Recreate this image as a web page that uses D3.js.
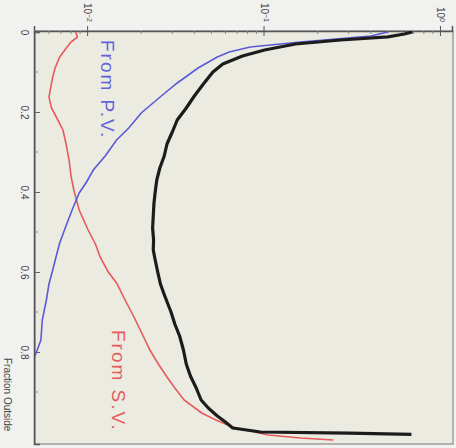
<!DOCTYPE html>
<html>
<head>
<meta charset="utf-8">
<script src="https://cdn.jsdelivr.net/npm/d3@7"></script>
<style>
  body { margin: 0; background: #f1f1ef; }
  svg { display: block; font-family: "Liberation Sans", Arial, sans-serif; }
</style>
</head>
<body>
<div id="chart"></div>
<script>

// fraction along x (original orientation), value on log scale
const blackFrac = [0, 0.005, 0.012, 0.02, 0.03, 0.045, 0.06, 0.08, 0.10, 0.13, 0.16, 0.19, 0.22, 0.25, 0.28, 0.31, 0.34, 0.37, 0.40, 0.43, 0.46, 0.49, 0.52, 0.545, 0.57, 0.60, 0.63, 0.66, 0.70, 0.73, 0.76, 0.795, 0.83, 0.86, 0.89, 0.92, 0.94, 0.96, 0.975, 0.99, 1.0, 1.003, 1.006];
const blackVal = [0.69, 0.62, 0.50, 0.27, 0.15, 0.10, 0.075, 0.058, 0.051, 0.045, 0.040, 0.036, 0.032, 0.030, 0.028, 0.027, 0.0255, 0.0245, 0.024, 0.0236, 0.0234, 0.0232, 0.0235, 0.0234, 0.0240, 0.0248, 0.0257, 0.0272, 0.0295, 0.031, 0.033, 0.0347, 0.036, 0.038, 0.041, 0.0437, 0.048, 0.054, 0.060, 0.066, 0.095, 0.30, 0.68];

const pvFrac = [0, 0.01, 0.025, 0.0375, 0.05, 0.0625, 0.09, 0.1275, 0.16, 0.2025, 0.24, 0.27, 0.31, 0.345, 0.375, 0.4025, 0.44, 0.4775, 0.5275, 0.56, 0.595, 0.63, 0.67, 0.72, 0.77, 0.81, 0.83];
const pvVal = [0.50, 0.40, 0.16, 0.083, 0.063, 0.054, 0.042, 0.032, 0.026, 0.020, 0.017, 0.0145, 0.0125, 0.0107, 0.0098, 0.0089, 0.0082, 0.0076, 0.0069, 0.0066, 0.0063, 0.0060, 0.0058, 0.0055, 0.0054, 0.0050, 0.0047];

const svFrac = [0, 0.0125, 0.025, 0.0375, 0.0625, 0.09, 0.1125, 0.1625, 0.19, 0.2125, 0.245, 0.28, 0.32, 0.36, 0.395, 0.445, 0.495, 0.53, 0.5625, 0.60, 0.6275, 0.67, 0.7125, 0.75, 0.795, 0.83, 0.8625, 0.89, 0.92, 0.9525, 0.97, 0.9875, 1.0075, 1.015, 1.02];
const svVal = [0.0085, 0.0087, 0.0080, 0.0076, 0.0069, 0.0065, 0.0063, 0.0060, 0.0062, 0.0066, 0.0072, 0.0075, 0.0078, 0.0080, 0.0083, 0.0089, 0.0100, 0.0110, 0.0117, 0.0130, 0.0145, 0.0162, 0.0182, 0.0200, 0.0224, 0.0250, 0.028, 0.031, 0.035, 0.044, 0.053, 0.066, 0.105, 0.16, 0.245];

const fracTicks = [0, 0.2, 0.4, 0.6, 0.8];
const fracMinor = [0.1, 0.3, 0.5, 0.7, 0.9];
const logTicks = [0.01, 0.1, 1];
const logExp = ["\u22122", "\u22121", "0"];

const W = 456, H = 448;

const svg = d3.select("#chart").append("svg")
  .attr("width", W)
  .attr("height", H);

// whole chart is drawn upright then turned a quarter clockwise
const g = svg.append("g")
  .attr("transform", `translate(${W},0) rotate(90)`);

const x = d3.scaleLinear().domain([0, 1.03]).range([32, 444]);
const y = d3.scaleLog().domain([0.005, 1.17]).range([421, 3]);

g.append("rect")
  .attr("x", x(0) - 1).attr("y", y(1.17))
  .attr("width", x(1.03) - x(0) + 1).attr("height", y(0.005) - y(1.17))
  .attr("fill", "#ebebe2")
  .attr("stroke", "#8a8a88")
  .attr("stroke-width", 1.2);

g.append("clipPath").attr("id", "clip")
  .append("rect")
  .attr("x", x(0) - 1).attr("y", y(1.17))
  .attr("width", x(1.03) - x(0) + 1).attr("height", y(0.005) - y(1.17));

// fraction axis
const xAxis = g.append("g")
  .attr("transform", `translate(0,${y(0.005)})`)
  .call(d3.axisBottom(x).tickValues(fracTicks).tickSize(-5).tickPadding(7).tickFormat(d3.format("")));
xAxis.select(".domain").attr("stroke", "#555").attr("stroke-width", 1.5);
xAxis.selectAll(".tick line").attr("stroke", "#666");
xAxis.selectAll("text").attr("font-size", 10).attr("fill", "#444");
xAxis.selectAll(".minor").data(fracMinor).enter().append("line")
  .attr("x1", d => x(d)).attr("x2", d => x(d))
  .attr("y1", 0).attr("y2", -3)
  .attr("stroke", "#888");

// log axis
const yAxis = g.append("g")
  .attr("transform", `translate(${x(0) - 1},0)`)
  .call(d3.axisLeft(y).tickValues(logTicks).tickSize(5).tickPadding(5).tickFormat(""));
yAxis.select(".domain").attr("stroke", "#555").attr("stroke-width", 1.5);
yAxis.selectAll(".tick line").attr("stroke", "#555").attr("x2", 5).attr("x1", -5);
yAxis.selectAll(".tick").each(function(d, i) {
  const t = d3.select(this).append("text")
    .attr("x", -9).attr("dy", "0.35em")
    .attr("text-anchor", "end")
    .attr("font-size", 10).attr("fill", "#444");
  t.append("tspan").text("10");
  t.append("tspan").attr("dy", "-0.45em").attr("font-size", 7).text(logExp[i]);
});
const minorLog = [];
[0.001, 0.01, 0.1, 1].forEach(dec => {
  for (let k = 2; k <= 9; k++) {
    const v = dec * k;
    if (v > 0.005 && v < 1.17) minorLog.push(v);
  }
});
yAxis.selectAll(".minor").data(minorLog).enter().append("line")
  .attr("x1", 0).attr("x2", 3)
  .attr("y1", d => y(d)).attr("y2", d => y(d))
  .attr("stroke", "#888");

g.append("text")
  .attr("x", 358).attr("y", 452)
  .attr("font-size", 10).attr("fill", "#444")
  .text("Fraction Outside");

const line = d3.line()
  .x(d => x(d[0]))
  .y(d => y(d[1]));

const plot = g.append("g").attr("clip-path", "url(#clip)");

plot.append("path")
  .datum(d3.zip(svFrac, svVal))
  .attr("d", line)
  .attr("fill", "none")
  .attr("stroke", "#e65a5c")
  .attr("stroke-width", 1.6);

plot.append("path")
  .datum(d3.zip(pvFrac, pvVal))
  .attr("d", line)
  .attr("fill", "none")
  .attr("stroke", "#5a5ad6")
  .attr("stroke-width", 1.6);

plot.append("path")
  .datum(d3.zip(blackFrac, blackVal))
  .attr("d", line)
  .attr("fill", "none")
  .attr("stroke", "#1c1c1c")
  .attr("stroke-width", 3.2)
  .attr("stroke-linejoin", "round");

g.append("text")
  .attr("x", 40).attr("y", 355)
  .attr("font-size", 19).attr("letter-spacing", 2).attr("fill", "#6464d8")
  .text("From P.V.");

g.append("text")
  .attr("x", 330).attr("y", 344)
  .attr("font-size", 19).attr("letter-spacing", 2).attr("fill", "#e65a5c")
  .text("From S.V.");

</script>
</body>
</html>
